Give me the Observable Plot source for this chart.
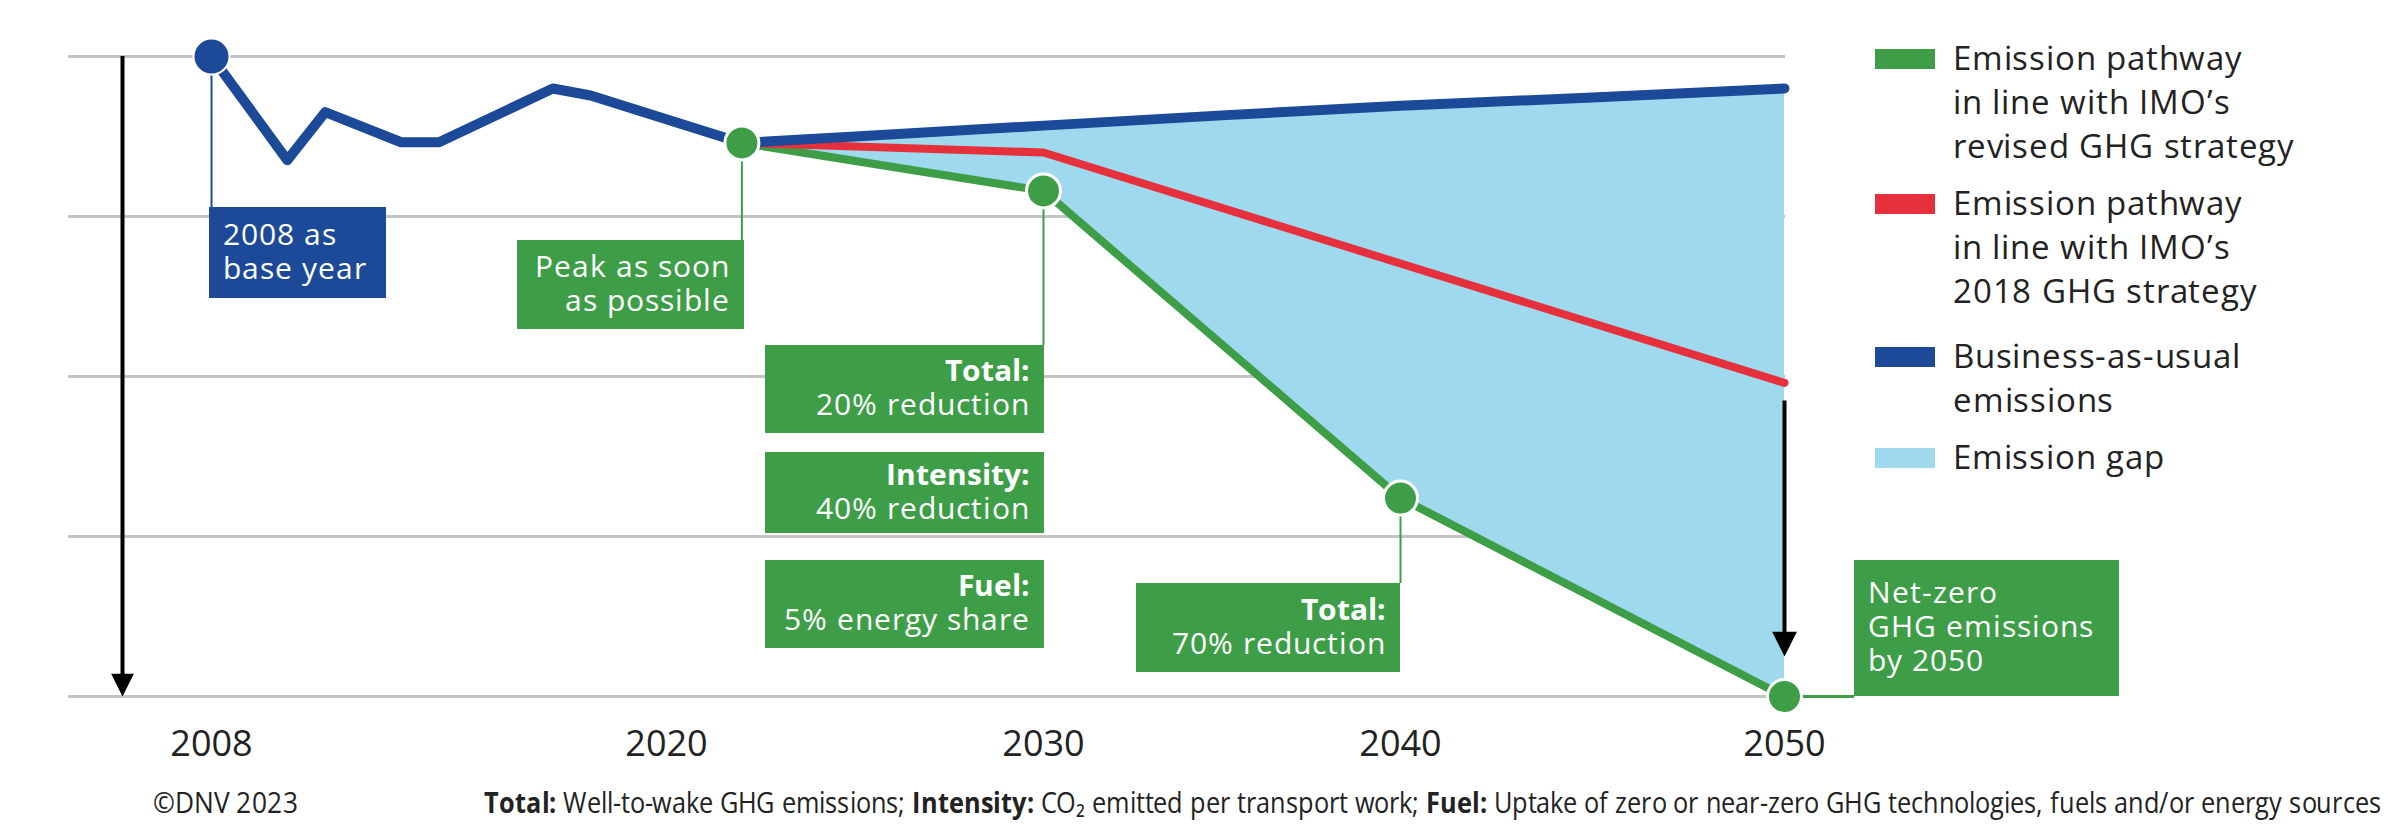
<!DOCTYPE html>
<html>
<head>
<meta charset="utf-8">
<script src="https://cdn.jsdelivr.net/npm/d3@7"></script>
<script src="https://cdn.jsdelivr.net/npm/@observablehq/plot@0.6"></script>
<style>
  @font-face { font-family: "BoxSans"; font-weight: 400;
    src: local("Open Sans Regular"), local("OpenSans-Regular"), local("Open Sans");
    ascent-override: 85%; descent-override: 22%; line-gap-override: 0%; }
  @font-face { font-family: "BoxSans"; font-weight: 700;
    src: local("Open Sans Bold"), local("OpenSans-Bold");
    ascent-override: 85%; descent-override: 22%; line-gap-override: 0%; }
  html, body { margin: 0; padding: 0; background: #fff; }
  #root { position: relative; width: 2388px; height: 828px; overflow: hidden; font-family: "BoxSans", "Open Sans", sans-serif; }
  #root svg { position: absolute; left: 0; top: 0; }
  .box { position: absolute; box-sizing: border-box; display: flex; flex-direction: column; justify-content: center;
         color: #fff; font-size: 30px; line-height: 34px; letter-spacing: 1px; white-space: nowrap; }
  .box b { font-weight: 700; letter-spacing: 0; }
  .legend-item { position: absolute; }
  .swatch { position: absolute; left: 0; width: 60px; height: 20px; }
  .legend-text { position: absolute; left: 78px; top: 0; white-space: nowrap; font-size: 33px; line-height: 44px;
                 letter-spacing: 0.8px; color: #222; }
  .footer { position: absolute; font-size: 29px; line-height: 32px; color: #222; white-space: nowrap; }
  .footer b { font-weight: 700; }
</style>
</head>
<body>
<div id="root"></div>
<script>
// ---------------- data ----------------
const tickYears = [2008, 2020, 2030, 2040, 2050];
const gridValues = [0, 25, 50, 75, 100];

// Business-as-usual emissions (index, 2008 = 100)
const bauYears  = [2008, 2010, 2011, 2013, 2014, 2017, 2018, 2022, 2025, 2030, 2035, 2040, 2045, 2050];
const bauValues = [100, 83.8, 91.3, 86.6, 86.6, 95, 93.9, 86.5, 87.5, 89.2, 90.8, 92.3, 93.6, 95];

// Pathway in line with IMO's revised GHG strategy
const revisedYears  = [2022, 2030, 2040, 2050];
const revisedValues = [86.5, 79, 31, 0];

// Pathway in line with IMO's 2018 GHG strategy
const strategy2018Years  = [2022, 2030, 2050];
const strategy2018Values = [86.5, 85, 49];

const legendLabels = [
  ["Emission pathway", "in line with IMO\u2019s", "revised GHG strategy"],
  ["Emission pathway", "in line with IMO\u2019s", "2018 GHG strategy"],
  ["Business-as-usual", "emissions"],
  ["Emission gap"]
];

const annotationYears = [2008, 2022, 2030, 2030, 2030, 2040, 2050];
const annotationHeads = ["", "", "Total:", "Intensity:", "Fuel:", "Total:", ""];
const annotationLines = [
  ["2008 as", "base year"],
  ["Peak as soon", "as possible"],
  ["20% reduction"],
  ["40% reduction"],
  ["5% energy share"],
  ["70% reduction"],
  ["Net-zero", "GHG emissions", "by 2050"]
];

const sourceText = "\u00A9DNV 2023";
const noteParts = [
  ["Total:", " Well-to-wake GHG emissions; "],
  ["Intensity:", " CO\u2082 emitted per transport work; "],
  ["Fuel:", " Uptake of zero or near-zero GHG technologies, fuels and/or energy sources"]
];

// ---------------- styles / layout ----------------
const BLUE = "#1d4a98", GREEN = "#3e9e48", RED = "#e6303c", GAP = "#9fd9ee", GRID = "#c4c4c4";
const W = 2388, H = 828;
const xRange = [211, 666, 1043, 1400, 1784];   // piecewise x positions of tickYears
const M = {top: 56, bottom: 132, left: 68, right: 603};

const boxLayout = [
  {bg: BLUE,  align: "left",  dx: -2, top: 207, width: 177, height: 91},
  {bg: GREEN, align: "right", dx: 3,  top: 240, width: 227, height: 89},
  {bg: GREEN, align: "right", dx: 1,  top: 345, width: 279, height: 88},
  {bg: GREEN, align: "right", dx: 1,  top: 452, width: 279, height: 81},
  {bg: GREEN, align: "right", dx: 1,  top: 560, width: 279, height: 88},
  {bg: GREEN, align: "right", dx: 0,  top: 583, width: 264, height: 89},
  {bg: GREEN, align: "left",  dx: 70, top: 560, width: 265, height: 136}
];
const legendColors = [GREEN, RED, BLUE, GAP];
const legendTops = [38, 183, 336, 437];
const footerLayout = {top: 788, sourceLeft: 153, sourceWidth: 145, noteRight: 2381, noteWidth: 1897};

// ---------------- build ----------------
const bau = bauYears.map((year, i) => ({year, value: bauValues[i]}));
const revised = revisedYears.map((year, i) => ({year, value: revisedValues[i]}));
const strat2018 = strategy2018Years.map((year, i) => ({year, value: strategy2018Values[i]}));

// gap polygon: BAU (upper edge) vs revised pathway (lower edge), from the peak year on
const upper = bau.filter(d => d.year >= revisedYears[0]);
const gap = upper.map((t, i) => {
  const b = revised[Math.round(i * (revised.length - 1) / (upper.length - 1))];
  return {xTop: t.year, yTop: t.value, xBot: b.year, yBot: b.value};
});

const xs = d3.scaleLinear(tickYears, xRange);
const ys = d3.scaleLinear([0, 100], [H - M.bottom, M.top]);

function valueAt(year) {
  if (year === bauYears[0]) return bauValues[0];
  const r = revised.find(d => d.year === year);
  return r ? r.value : null;
}
const anchors = annotationYears.map(year => ({year, value: valueAt(year)}));

const seen = new Set();
const vLeaders = [];
const lastIdx = anchors.length - 1;
anchors.forEach((a, i) => {
  if (seen.has(a.year) || i === lastIdx) return;
  seen.add(a.year);
  vLeaders.push({year: a.year, y1: a.value, y2: ys.invert(boxLayout[i].top), color: i === 0 ? BLUE : GREEN});
});
const hLeader = [{value: anchors[lastIdx].value, x1: anchors[lastIdx].year,
                  x2: xs.invert(xs(anchors[lastIdx].year) + boxLayout[lastIdx].dx)}];

const triDown = {
  draw(ctx, size) {
    const r = Math.sqrt(size / Math.PI);
    ctx.moveTo(-r * 0.95, -r * 1.9);
    ctx.lineTo(r * 0.95, -r * 1.9);
    ctx.lineTo(0, 0);
    ctx.closePath();
  }
};

const arrowLeft = [{year: bauYears[0], from: 100, to: 0}];
const arrowGap = [{year: 2050, from: strategy2018Values[strategy2018Values.length - 1], to: revisedValues[revisedValues.length - 1]}];

const chart = Plot.plot({
  width: W, height: H,
  marginTop: M.top, marginBottom: M.bottom, marginLeft: M.left, marginRight: M.right,
  x: {type: "linear", domain: tickYears, range: xRange, axis: null},
  y: {domain: [0, 100], axis: null},
  style: {fontFamily: "'Open Sans', sans-serif", fontSize: "36px", color: "#222", background: "#fff", overflow: "visible"},
  marks: [
    Plot.ruleY(gridValues, {stroke: GRID, strokeWidth: 3}),
    Plot.area(gap, {x1: "xBot", y1: "yBot", x2: "xTop", y2: "yTop", fill: GAP}),
    Plot.ruleX(vLeaders, {x: "year", y1: "y1", y2: "y2", stroke: "color", strokeWidth: 2}),
    Plot.ruleY(hLeader, {y: "value", x1: "x1", x2: "x2", stroke: GREEN, strokeWidth: 3}),
    Plot.ruleX(arrowLeft, {x: "year", y1: "from", y2: "to", dx: -89, insetBottom: 12, stroke: "#000", strokeWidth: 4}),
    Plot.dot(arrowLeft, {x: "year", y: "to", dx: -89, symbol: triDown, r: 12, fill: "#000", stroke: null}),
    Plot.ruleX(arrowGap, {x: "year", y1: "from", y2: "to", insetTop: 18, insetBottom: 55, stroke: "#000", strokeWidth: 4}),
    Plot.dot(arrowGap, {x: "year", y: "to", dy: -40, symbol: triDown, r: 13, fill: "#000", stroke: null}),
    Plot.line(revised, {x: "year", y: "value", stroke: GREEN, strokeWidth: 8, strokeLinejoin: "round"}),
    Plot.line(strat2018, {x: "year", y: "value", stroke: RED, strokeWidth: 8, strokeLinejoin: "round"}),
    Plot.line(bau, {x: "year", y: "value", stroke: BLUE, strokeWidth: 10, strokeLinejoin: "round"}),
    Plot.dot([bau[0]], {x: "year", y: "value", r: 18, fill: BLUE, stroke: "#fff", strokeWidth: 2}),
    Plot.dot(revised, {x: "year", y: "value", r: 17, fill: GREEN, stroke: "#fff", strokeWidth: 3}),
    Plot.axisX({ticks: tickYears, tickFormat: d => `${d}`, tickSize: 0, tickPadding: 34, label: null, fill: "#222"})
  ]
});

const root = document.getElementById("root");
root.appendChild(chart);

annotationYears.forEach((year, i) => {
  const L = boxLayout[i];
  const px = xs(year);
  const left = L.align === "right" ? px + L.dx - L.width : px + L.dx;
  const div = document.createElement("div");
  div.className = "box";
  Object.assign(div.style, {
    left: left + "px", top: L.top + "px", width: L.width + "px", height: L.height + "px",
    background: L.bg, textAlign: L.align,
    paddingLeft: L.align === "left" ? "14px" : "0", paddingRight: L.align === "right" ? "14px" : "0"
  });
  const lines = [];
  if (annotationHeads[i]) lines.push(`<div><b>${annotationHeads[i]}</b></div>`);
  annotationLines[i].forEach(t => lines.push(`<div>${t}</div>`));
  div.innerHTML = lines.join("");
  root.appendChild(div);
});

legendLabels.forEach((lines, i) => {
  const item = document.createElement("div");
  item.className = "legend-item";
  item.style.left = "1875px";
  item.style.top = legendTops[i] + "px";
  const sw = document.createElement("div");
  sw.className = "swatch";
  sw.style.background = legendColors[i];
  sw.style.top = "11px";
  const tx = document.createElement("div");
  tx.className = "legend-text";
  tx.innerHTML = lines.join("<br>");
  item.appendChild(sw); item.appendChild(tx);
  root.appendChild(item);
});

function fitWidth(el, target, origin) {
  el.style.transformOrigin = origin;
  const w = el.getBoundingClientRect().width;
  if (w > 0) el.style.transform = `scaleX(${target / w})`;
}
const src = document.createElement("div");
src.className = "footer";
src.style.left = footerLayout.sourceLeft + "px"; src.style.top = footerLayout.top + "px";
src.textContent = sourceText;
root.appendChild(src);
const note = document.createElement("div");
note.className = "footer";
note.style.right = (W - footerLayout.noteRight) + "px"; note.style.top = footerLayout.top + "px";
note.innerHTML = noteParts.map(([h, t]) => `<b>${h}</b>${t}`).join("");
root.appendChild(note);
const fit = () => {
  fitWidth(src, footerLayout.sourceWidth, "left center");
  fitWidth(note, footerLayout.noteWidth, "right center");
};
if (document.fonts && document.fonts.ready) { fit(); document.fonts.ready.then(() => { src.style.transform = ""; note.style.transform = ""; fit(); }); }
else fit();
</script>
</body>
</html>
